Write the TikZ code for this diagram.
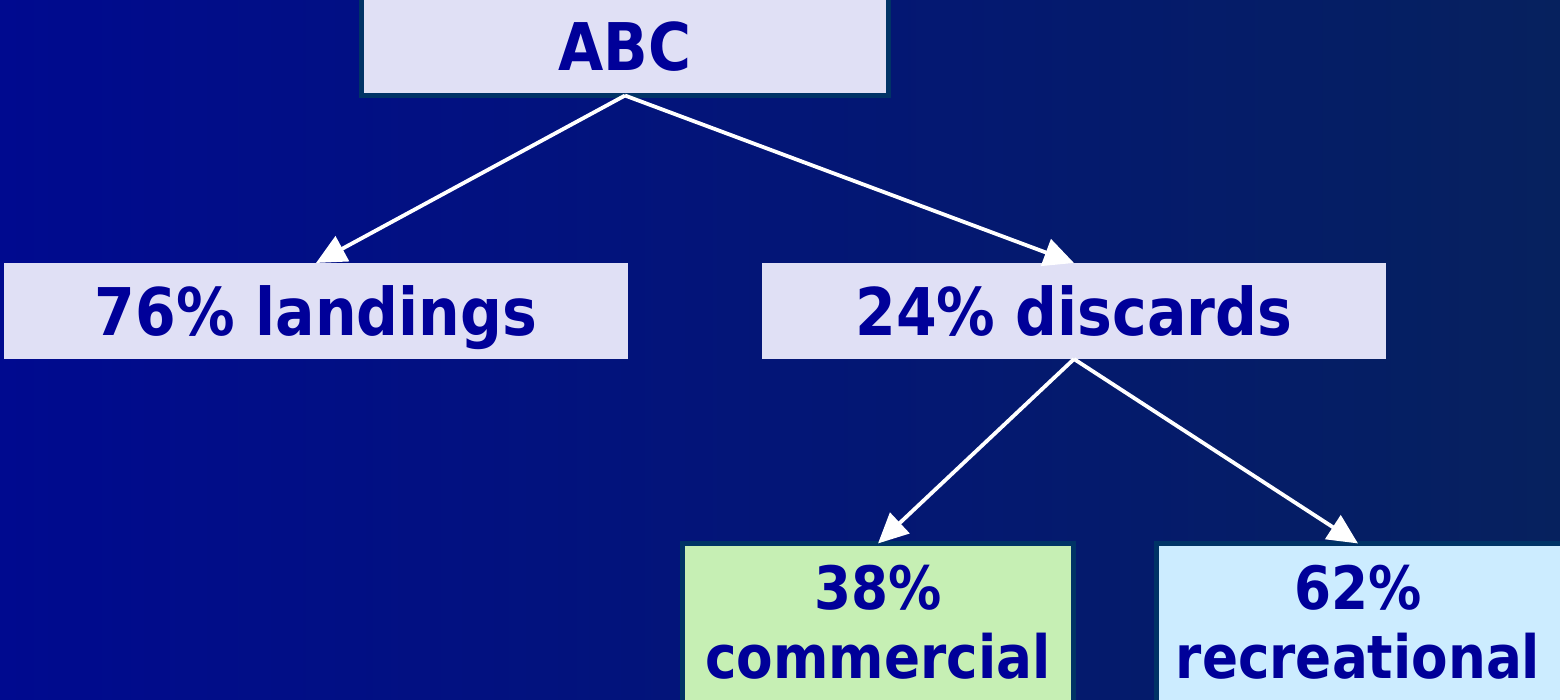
\documentclass[tikz,border=0pt]{standalone}
\usepackage{fontspec}
\setmainfont{DejaVu Sans}[FakeStretch=0.89]
\usetikzlibrary{arrows.meta}
\definecolor{bgleft}{HTML}{000A8F}
\definecolor{bgright}{HTML}{06215E}
\definecolor{boxlav}{HTML}{E0E0F5}
\definecolor{boxgreen}{HTML}{C6EFB4}
\definecolor{boxblue}{HTML}{CCECFF}
\definecolor{edge}{HTML}{003366}
\definecolor{ink}{HTML}{000099}
\begin{document}
\begin{tikzpicture}[x=0.01cm,y=-0.01cm,
  box/.style={rectangle, inner sep=0pt, outer sep=0pt},
  framed/.style={box, draw=edge, line width=0.05cm},
  bigtext/.style={font=\fontsize{18.7}{22}\selectfont\bfseries, text=ink, text height=0.48cm, text depth=0pt},
  smalltext/.style={font=\fontsize{17}{19.6}\selectfont\bfseries, text=ink, inner sep=0pt, align=center},
  arr/.style={draw=white, line width=0.038cm, -{Triangle[length=0.3cm,width=0.28cm]}}]
\useasboundingbox (0,0) rectangle (1560,700);
\clip (0,0) rectangle (1560,700);
\shade[left color=bgleft, right color=bgright] (0,0) rectangle (1560,700);

\node[framed, fill=boxlav, minimum width=5.27cm, minimum height=0.975cm, bigtext] (abc) at (625,46.75) {ABC};
\node[box, fill=boxlav, minimum width=6.24cm, minimum height=0.96cm, bigtext] (land) at (316,311) {76\% landings};
\node[box, fill=boxlav, minimum width=6.24cm, minimum height=0.96cm, bigtext] (disc) at (1074,311) {24\% discards};
\node[framed, fill=boxgreen, minimum width=3.91cm, minimum height=1.765cm] (com) at (878,631.75) {};
\node[smalltext] (comtext) at (878,622) {38\%\\commercial};
\node[framed, fill=boxblue, minimum width=4.20cm, minimum height=1.765cm] (rec) at (1366.5,631.75) {};
\node[smalltext] (rectext) at (1358,622) {62\%\\recreational};

\draw[arr] (abc.south) -- (land.north);
\draw[arr] (abc.south) -- (disc.north);
\draw[arr] (disc.south) -- (com.north);
\draw[arr] (disc.south) -- ([xshift=-0.085cm]rec.north);
\end{tikzpicture}
\end{document}
